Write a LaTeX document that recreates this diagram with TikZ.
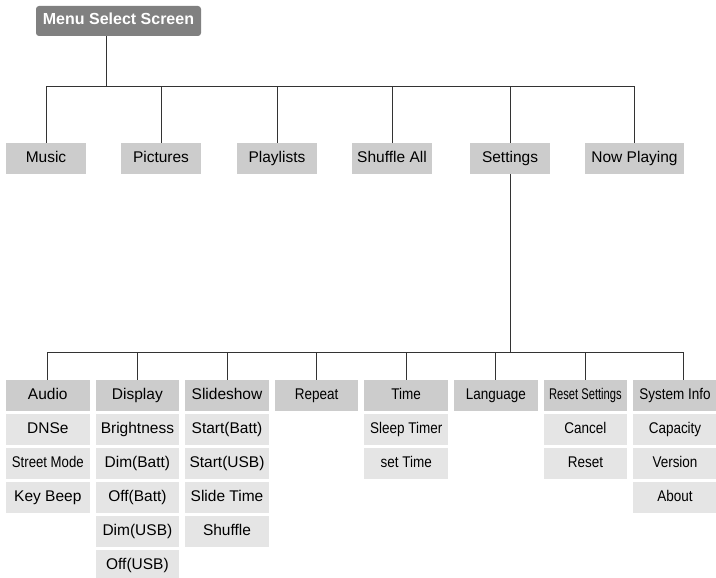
\documentclass[tikz,border=0pt]{standalone}
\usepackage{fontspec}
\setmainfont{Liberation Sans}
\newfontfamily\narrowfont[FakeStretch=0.87]{Liberation Sans}
\newfontfamily\streetfont[FakeStretch=0.85]{Liberation Sans}
\newfontfamily\tightfont[FakeStretch=0.72]{Liberation Sans}
\definecolor{rootgray}{HTML}{808080}
\definecolor{headgray}{HTML}{CCCCCC}
\definecolor{itemgray}{HTML}{E5E5E5}
\definecolor{linegray}{HTML}{333333}
\begin{document}
\begin{tikzpicture}[x=1pt, y=-1pt,
  font=\fontsize{15.5}{18}\selectfont,
  box/.style={minimum width=83.5pt, minimum height=31pt, inner sep=0pt,
              text height=11pt, text depth=3.3pt, align=center, fill=#1},
  mainbox/.style={box=headgray, minimum width=80pt},
  narrow/.style={font=\fontsize{15.5}{18}\narrowfont},
  tight/.style={font=\fontsize{15.5}{18}\tightfont},
  link/.style={draw=linegray, line width=1pt}
]
  \useasboundingbox (0,0) rectangle (716,578);
  % root
  \node[box=rootgray, rounded corners=3pt, minimum width=165pt, minimum height=30pt,
        text=white, font=\fontsize{16}{18}\selectfont\bfseries] (menu) at (118.5,21) {Menu Select Screen};
  % first level
  \node[mainbox] (music)    at (46,158.5)  {Music};
  \node[mainbox] (pictures) at (161,158.5) {Pictures};
  \node[mainbox] (playlists)at (277,158.5) {Playlists};
  \node[mainbox] (shuffle)  at (392,158.5) {Shuffle All};
  \node[mainbox] (settings) at (510,158.5) {Settings};
  \node[mainbox, minimum width=99pt] (now) at (634.5,158.5) {Now Playing};
  \coordinate (fork1) at (106,87);
  \draw[link] (menu.south -| fork1) -- (fork1);
  \draw[link] (music.north) -- (music.north |- fork1) -- (now.north |- fork1) -- (now.north);
  \draw[link] (pictures.north)  -- (pictures.north |- fork1);
  \draw[link] (playlists.north) -- (playlists.north |- fork1);
  \draw[link] (shuffle.north)   -- (shuffle.north |- fork1);
  \draw[link] (settings.north)  -- (settings.north |- fork1);
  % settings menu
  \node[box=headgray] (audio)   at (47.8,395.5)  {Audio};
  \node[box=itemgray] (dnse)    at (47.8,429.5)  {DNSe};
  \node[box=itemgray, font=\fontsize{15.5}{18}\streetfont] (street) at (47.8,463.5) {Street Mode};
  \node[box=itemgray] (beep)    at (47.8,497.5)  {Key Beep};

  \node[box=headgray] (display) at (137.4,395.5) {Display};
  \node[box=itemgray] (bright)  at (137.4,429.5) {Brightness};
  \node[box=itemgray] (dimbatt) at (137.4,463.5) {Dim(Batt)};
  \node[box=itemgray] (offbatt) at (137.4,497.5) {Off(Batt)};
  \node[box=itemgray] (dimusb)  at (137.4,531.5) {Dim(USB)};
  \node[box=itemgray] (offusb)  at (137.4,565.5) {Off(USB)};

  \node[box=headgray] (slide)   at (227,395.5)   {Slideshow};
  \node[box=itemgray] (stbatt)  at (227,429.5)   {Start(Batt)};
  \node[box=itemgray] (stusb)   at (227,463.5)   {Start(USB)};
  \node[box=itemgray] (sltime)  at (227,497.5)   {Slide Time};
  \node[box=itemgray] (slshuf)  at (227,531.5)   {Shuffle};

  \node[box=headgray, narrow] (repeat) at (316.6,395.5) {Repeat};

  \node[box=headgray, narrow] (time)   at (406.2,395.5) {Time};
  \node[box=itemgray, narrow] (sleep)  at (406.2,429.5) {Sleep Timer};
  \node[box=itemgray, narrow] (settm)  at (406.2,463.5) {set Time};

  \node[box=headgray, narrow] (lang)   at (495.8,395.5) {Language};

  \node[box=headgray, tight]  (reset)  at (585.4,395.5) {Reset Settings};
  \node[box=itemgray, narrow] (cancel) at (585.4,429.5) {Cancel};
  \node[box=itemgray, narrow] (doreset)at (585.4,463.5) {Reset};

  \node[box=headgray, narrow] (sysinfo)at (675,395.5)   {System Info};
  \node[box=itemgray, narrow] (capa)   at (675,429.5)   {Capacity};
  \node[box=itemgray, narrow] (version)at (675,463.5)   {Version};
  \node[box=itemgray, narrow] (about)  at (675,497.5)   {About};

  \coordinate (fork2) at (510,352);
  \coordinate (sysdrop) at ([xshift=8pt]sysinfo.north);
  \draw[link] (settings.south) -- (fork2);
  \draw[link] (audio.north) -- (audio.north |- fork2) -- (sysdrop |- fork2) -- (sysdrop);
  \draw[link] (display.north) -- (display.north |- fork2);
  \draw[link] (slide.north)   -- (slide.north |- fork2);
  \draw[link] (repeat.north)  -- (repeat.north |- fork2);
  \draw[link] (time.north)    -- (time.north |- fork2);
  \draw[link] (lang.north)    -- (lang.north |- fork2);
  \draw[link] (reset.north)   -- (reset.north |- fork2);
\end{tikzpicture}
\end{document}
